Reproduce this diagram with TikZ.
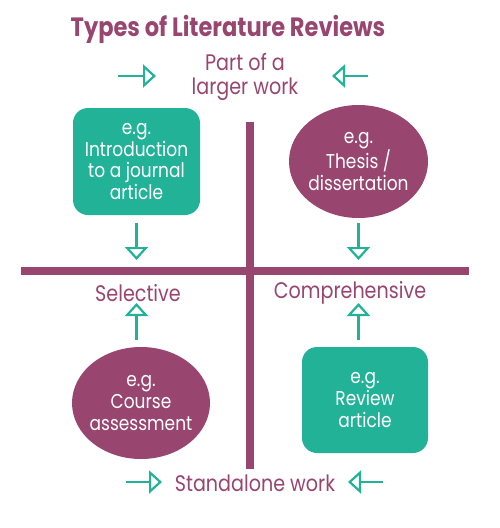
\documentclass[tikz,border=0pt]{standalone}
\usepackage{fontspec}
\setmainfont{Poppins}[FakeStretch=0.85]
\usetikzlibrary{arrows.meta, positioning, shapes.geometric}
\definecolor{mypurple}{HTML}{984570}
\definecolor{mygreen}{HTML}{22B298}
\tikzset{
	greenbox/.style={
			rectangle,
			rounded corners=15pt,
			fill=mygreen,
			text=white,
			minimum width=127pt,
			minimum height=107pt,
			inner sep=0pt,
			align=center,
			font=\fontsize{20}{21.7}\selectfont
		},
	purpleblob/.style={
			ellipse,
			fill=mypurple,
			text=white,
			minimum width=139pt,
			minimum height=113pt,
			inner ysep=0pt,
			inner xsep=-20pt,
			align=center,
			font=\fontsize{20}{21.7}\selectfont
		},
	axislabel/.style={
			text=mypurple,
			align=center,
			font=\fontsize{22.5}{23.5}\selectfont
		},
	openarrow/.style={
			draw=mygreen,
			line width=2.2pt,
			-{Triangle[open, length=13pt, width=23pt, fill=white]}
		},
	divider/.style={
			draw=mypurple,
			line width=7.5pt
		}
}

\begin{document}
\begin{tikzpicture}[x=1pt, y=-1pt]
				\useasboundingbox (0,0) rectangle (500,528);
				% axes
				\coordinate (vtop) at (250,122);
				\coordinate (vbot) at (250,469);
				\coordinate (hleft) at (21,271);
				\coordinate (hright) at (469,271);
				\draw[divider] (vtop) -- (vbot);
				\draw[divider] (hleft) -- (hright);
				\node[text=mypurple, font=\fontsize{26.5}{30}\selectfont\bfseries] (title) at (228,29) {Types of Literature Reviews};
				\node[axislabel] (part) at (245,77) {Part of a\\larger work};
				\node[axislabel] (selective) at (138,293) {Selective};
				\node[axislabel] (compre) at (350,293) {Comprehensive};
				\node[axislabel] (standalone) at (255,483) {Standalone work};
				% examples
				\node[greenbox] (intro) at (136.5,161.5) {e.g.\\Introduction\\to a journal\\article};
				\node[purpleblob] (thesis) at (358.5,161.5) {e.g.\\Thesis /\\dissertation};
				\node[purpleblob, minimum width=138pt, minimum height=112pt] (course) at (141,403) {e.g.\\Course\\assessment};
				\node[greenbox, minimum width=126pt, minimum height=106pt] (review) at (365,400) {e.g.\\Review\\article};
				% arrows
				\draw[openarrow, shorten <=8pt, shorten >=11pt] (intro.south) -- (intro.south |- hleft);
				\draw[openarrow, shorten <=5pt, shorten >=11pt] (thesis.south) -- (thesis.south |- hleft);
				\draw[openarrow, shorten <=7pt, shorten >=32pt] (course.north -| intro.south) -- (intro.south |- hleft);
				\draw[openarrow, shorten <=7pt, shorten >=32pt] (review.north -| thesis.south) -- (thesis.south |- hleft);
				\coordinate (ptlA) at (118,76);
				\coordinate (ptlB) at (156,76);
				\coordinate (ptrA) at (368,76);
				\coordinate (ptrB) at (332,76);
				\coordinate (swlA) at (126,482);
				\coordinate (swlB) at (162,482);
				\coordinate (swrA) at (383,482);
				\coordinate (swrB) at (348,482);
				\draw[openarrow] (ptlA) -- (ptlB);
				\draw[openarrow] (ptrA) -- (ptrB);
				\draw[openarrow] (swlA) -- (swlB);
				\draw[openarrow] (swrA) -- (swrB);
			\end{tikzpicture}
\end{document}
